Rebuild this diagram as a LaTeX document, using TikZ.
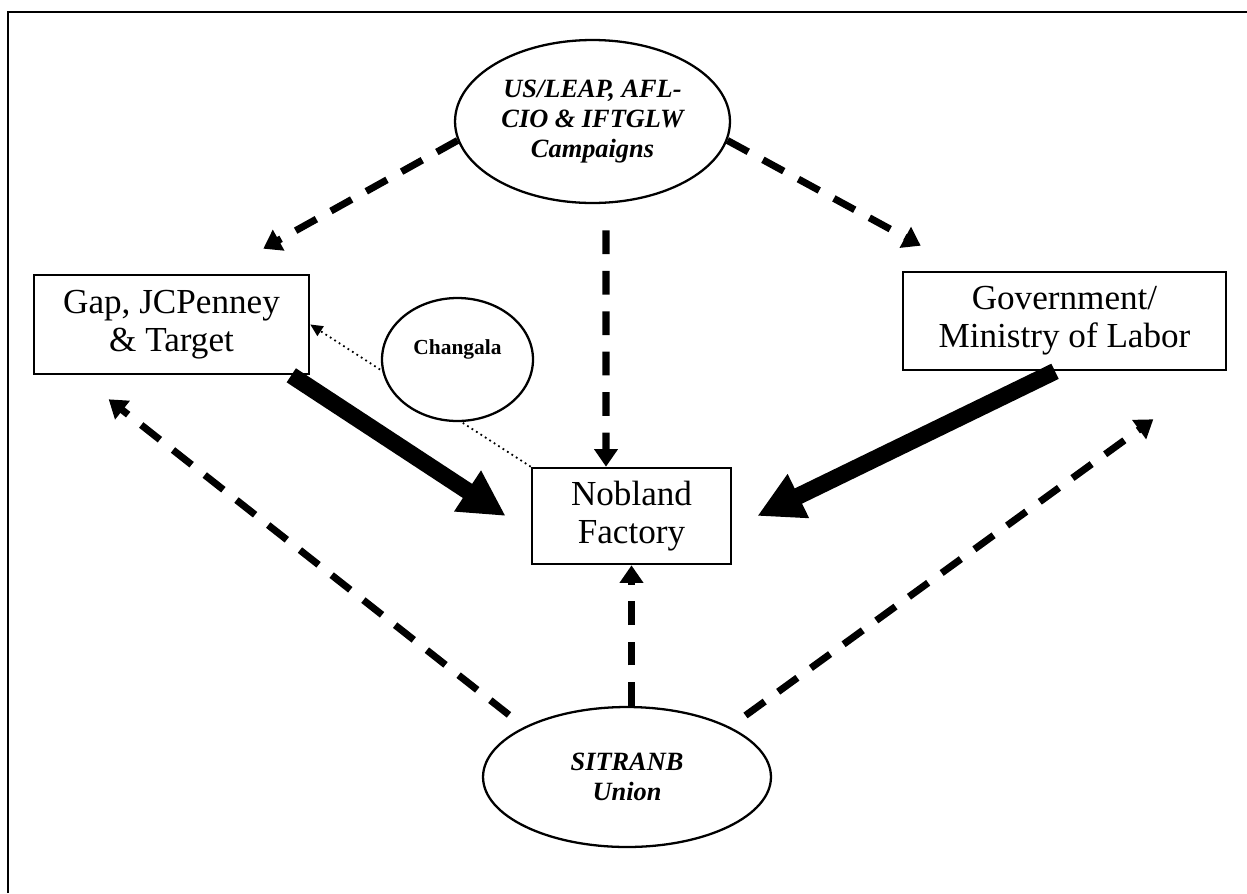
\documentclass[tikz,border=0pt]{standalone}
\usepackage{fontspec}
\setmainfont{Liberation Serif}
\usetikzlibrary{arrows.meta,backgrounds,shapes.geometric}
\tikzset{>=latex}
\tikzset{
  actor/.style={draw, ellipse, line width=1.3pt, align=center, inner sep=0pt, fill=white},
  firm/.style={draw, rectangle, line width=1.5pt, align=center, inner sep=0pt, font=\fontsize{20}{21.5}\selectfont},
  campaign/.style={line width=4pt, dash pattern=on 13.5pt off 9.5pt, -{Triangle[length=10pt,width=13pt]}},
  pressure/.style={line width=9.6pt, -{Triangle[length=26pt,width=26pt]}},
  contact/.style={line width=1pt, dotted, -{Triangle[length=7pt,width=6.5pt]}}
}

\begin{document}
\begin{tikzpicture}[x=0.02cm, y=-0.02cm]
\useasboundingbox (0,0) rectangle (1247,893);
% frame
\draw[line width=1.7pt] (8,893) |- (1247,12);

\node[actor, minimum width=5.5cm, minimum height=3.26cm, font=\bfseries\itshape\fontsize{15}{17}\selectfont] (usleap) at (592.5,121.5) {US/LEAP, AFL-\\CIO \& IFTGLW\\Campaigns};
\node[firm, minimum width=5.5cm, minimum height=1.98cm] (gap) at (171.5,324.5) {Gap, JCPenney\\\& Target};
\node[firm, minimum width=6.46cm, minimum height=1.96cm] (gov) at (1064.5,321) {Government/\\Ministry of Labor};
\node[actor, minimum width=3.02cm, minimum height=2.46cm, font=\bfseries\fontsize{12.2}{14}\selectfont] (changala) at (457.5,359.5) {\raisebox{3pt}[0pt][0pt]{Changala}};
\node[firm, minimum width=3.98cm, minimum height=1.92cm] (nobland) at (631.5,516) {Nobland\\Factory};
\node[actor, minimum width=5.76cm, minimum height=2.8cm, font=\bfseries\itshape\fontsize{15}{17}\selectfont] (sitranb) at (627,777) {SITRANB\\Union};

\coordinate (gaptip) at ([xshift=1.52cm, yshift=-0.48cm]gap.south west);
\coordinate (govtip) at ([xshift=-1.48cm, yshift=-0.96cm]gov.south east);

% campaigns
\draw[campaign] (usleap.188) -- ([xshift=-0.94cm, yshift=0.5cm]gap.north east);
\draw[campaign] (usleap.352) -- ([xshift=0.38cm, yshift=0.5cm]gov.north west);
\draw[campaign, shorten <=15pt] ([xshift=0.27cm]usleap.south) -- ([xshift=-0.51cm]nobland.north);

% pressure
\draw[pressure] ([xshift=-0.38cm]gap.south east) -- ([xshift=-0.5cm]nobland.west);
\draw[pressure] ([xshift=-0.19cm]gov.south) -- ([xshift=0.5cm]nobland.east);

% union
\draw[campaign, shorten <=11pt] (sitranb.154) -- (gaptip);
\draw[campaign, shorten <=11pt] (sitranb.26) -- (govtip);
\draw[campaign] (nobland.south |- sitranb.north) -- (nobland.south);

\begin{pgfonlayer}{background}
\draw[contact] (nobland.north west) -- (gap.east);
\end{pgfonlayer}
\end{tikzpicture}
\end{document}
